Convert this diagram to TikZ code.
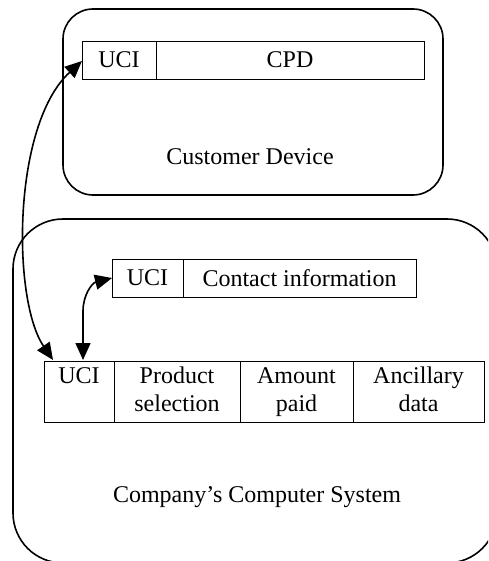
\documentclass[tikz,border=0pt]{standalone}
\usepackage{fontspec}
\setmainfont{Liberation Serif}
\usetikzlibrary{arrows.meta}
\begin{document}
\begin{tikzpicture}[x=1pt,y=-1pt,
  outer/.style={draw, line width=1.6pt, inner sep=0pt, outer sep=0pt},
  cell/.style={draw, line width=0.8pt, inner sep=0pt, outer sep=0pt, align=center,
    font=\fontsize{24}{28}\selectfont},
  lbl/.style={inner sep=0pt, font=\fontsize{24}{28}\selectfont},
  dbl/.style={line width=1.6pt, {Triangle[length=17pt,width=15pt]}-{Triangle[length=17pt,width=15pt]}}]
\useasboundingbox (0,0) rectangle (488,561);
\clip (0,0) rectangle (488,561);
% containers
\node[outer, rounded corners=30pt, minimum width=380pt, minimum height=186pt] (dev) at (253,102) {};
\node[outer, rounded corners=50pt, minimum width=484pt, minimum height=344pt] (sys) at (255,391) {};
\node[lbl] (devlbl) at (250,157) {Customer Device};
\node[lbl] (syslbl) at (257,497) {Company’s Computer System};
% top row
\node[cell, minimum width=74pt, minimum height=38pt] (cuci) at (119,60) {UCI};
\node[cell, minimum width=268pt, minimum height=38pt] (cpd) at (290,60) {CPD};
% contact row
\node[cell, minimum width=71pt, minimum height=38pt] (kuci) at (147.5,278) {UCI};
\node[cell, minimum width=233pt, minimum height=38pt] (kinf) at (299.5,278) {Contact information};
% bottom row
\node[cell, minimum width=70pt, minimum height=61pt] (buci) at (79,391.5) {\strut UCI\\\strut};
\node[cell, minimum width=126pt, minimum height=61pt] (bprod) at (177,391.5) {\strut Product\\\strut selection};
\node[cell, minimum width=113pt, minimum height=61pt] (bamt) at (296.5,391.5) {\strut Amount\\\strut paid};
\node[cell, minimum width=131pt, minimum height=61pt] (banc) at (418.5,391.5) {\strut Ancillary\\\strut data};
% connectors
\draw[dbl] ([xshift=9pt,yshift=1pt]buci.north west) .. controls (12,300) and (12,125) .. ([yshift=-1pt]cuci.west);
\draw[dbl] ([xshift=4pt,yshift=1pt]buci.north) -- ([xshift=4pt,yshift=50pt]buci.north) .. controls (83,295) and (92,283) .. (kuci.west);
\end{tikzpicture}
\end{document}
